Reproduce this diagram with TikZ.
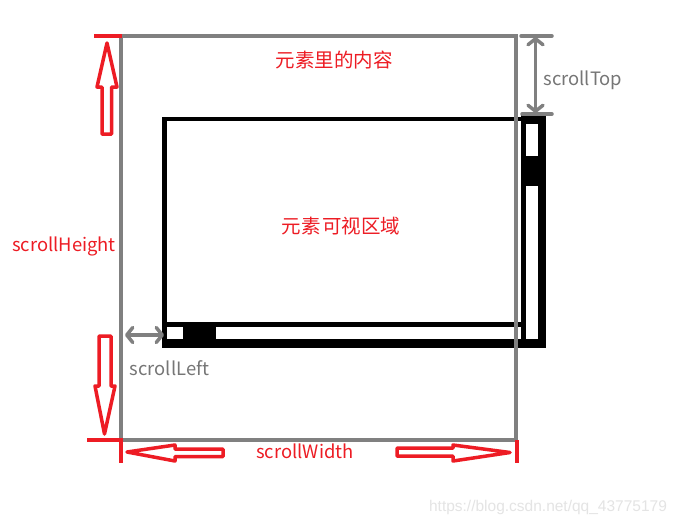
\documentclass[tikz,border=0pt]{standalone}
\usepackage{fontspec}
\setmainfont{Noto Sans CJK SC}
\newfontfamily\wmfont{Liberation Sans}
\usetikzlibrary{arrows.meta}
\definecolor{pred}{RGB}{237,28,36}
\definecolor{pgray}{RGB}{128,128,128}
\definecolor{tgray}{RGB}{118,118,118}
\definecolor{wm}{RGB}{228,228,228}
\begin{document}
\begin{tikzpicture}[x=1pt,y=-1pt,
  blockarrow/.style={draw=pred,line width=3.5pt,line join=round},
  redtick/.style={draw=pred,line width=4pt},
  grayframe/.style={draw=pgray,line width=4.5pt},
  graytick/.style={draw=pgray,line width=3.5pt,line cap=round},
  dimarrow/.style={draw=pgray,line width=3.5pt,line cap=round,
    {Straight Barb[length=6pt,width=15pt,round]}-{Straight Barb[length=6pt,width=15pt,round]}},
  lbl/.style={inner sep=0pt,font=\fontsize{18.4}{21}\selectfont},
  cjklbl/.style={inner sep=0pt,font=\fontsize{19.5}{22}\selectfont},
  bar/.style={fill=black}]
\useasboundingbox (0,0) rectangle (680,525);
\fill[white] (0,0) rectangle (680,525);

% viewport and scroll bars
\fill[bar] (162,117) rectangle (523,121);
\fill[bar] (162,117) rectangle (167,348);
\fill[bar] (162,322) rectangle (523,327);
\fill[bar] (162,339) rectangle (546,348);
\fill[bar] (521,115) rectangle (526,348);
\fill[bar] (538,115) rectangle (546,348);
\fill[bar] (521,115) rectangle (546,124);
\fill[bar] (183,327) rectangle (216,340);
\fill[bar] (526,156) rectangle (538,186);

% content frame
\draw[grayframe] (121,36) rectangle (516,440);

% scrollTop dimension
\coordinate (stTop) at (535.5,37);
\coordinate (stBot) at (535.5,113);
\draw[graytick] (521,36) -- (552,36);
\draw[graytick] (522,114) -- (552,114);
\draw[dimarrow] (stTop) -- (stBot);

% scrollLeft dimension
\coordinate (slL) at (125,335);
\coordinate (slR) at (164,335);
\draw[dimarrow] (slL) -- (slR);

% scrollHeight arrows
\draw[redtick] (94,36) -- (122,36);
\draw[blockarrow] (107,43) -- (117,87) -- (111.5,87) -- (111.5,134) -- (102,134) -- (102,87) -- (97,87) -- cycle;
\draw[blockarrow] (99,336) -- (111,336) -- (111,386) -- (115,386) -- (104.5,434) -- (95,386) -- (99,386) -- cycle;
\draw[redtick] (87,439.5) -- (123,439.5);

% scrollWidth arrows
\draw[redtick] (121,438) -- (121,463);
\draw[redtick] (517,440) -- (517,463);
\draw[blockarrow] (127,452) -- (175,445) -- (175,449) -- (223,449) -- (223,456.5) -- (175,456.5) -- (175,461) -- cycle;
\draw[blockarrow] (397,448) -- (453,448) -- (453,445) -- (510,452.5) -- (453,461) -- (453,456) -- (397,456) -- cycle;

% labels
\node[lbl,text=pred] (sh) at (64,246) {scrollHeight};
\node[cjklbl,text=pred] (content) at (334,60) {元素里的内容};
\node[cjklbl,text=pred] (view) at (341,226) {元素\hspace{2pt}可视区域};
\node[lbl,text=tgray] (sl) at (169.5,368) {scrollLeft};
\node[lbl,text=tgray] (st) at (583,80) {scrollTop};
\node[lbl,text=pred] (sw) at (305,451) {scrollWidth};
\node[inner sep=0pt,text=wm,font=\wmfont\fontsize{15.5}{18}\selectfont] (wmk) at (548,507) {https://blog.csdn.net/qq\_43775179};
\end{tikzpicture}
\end{document}
